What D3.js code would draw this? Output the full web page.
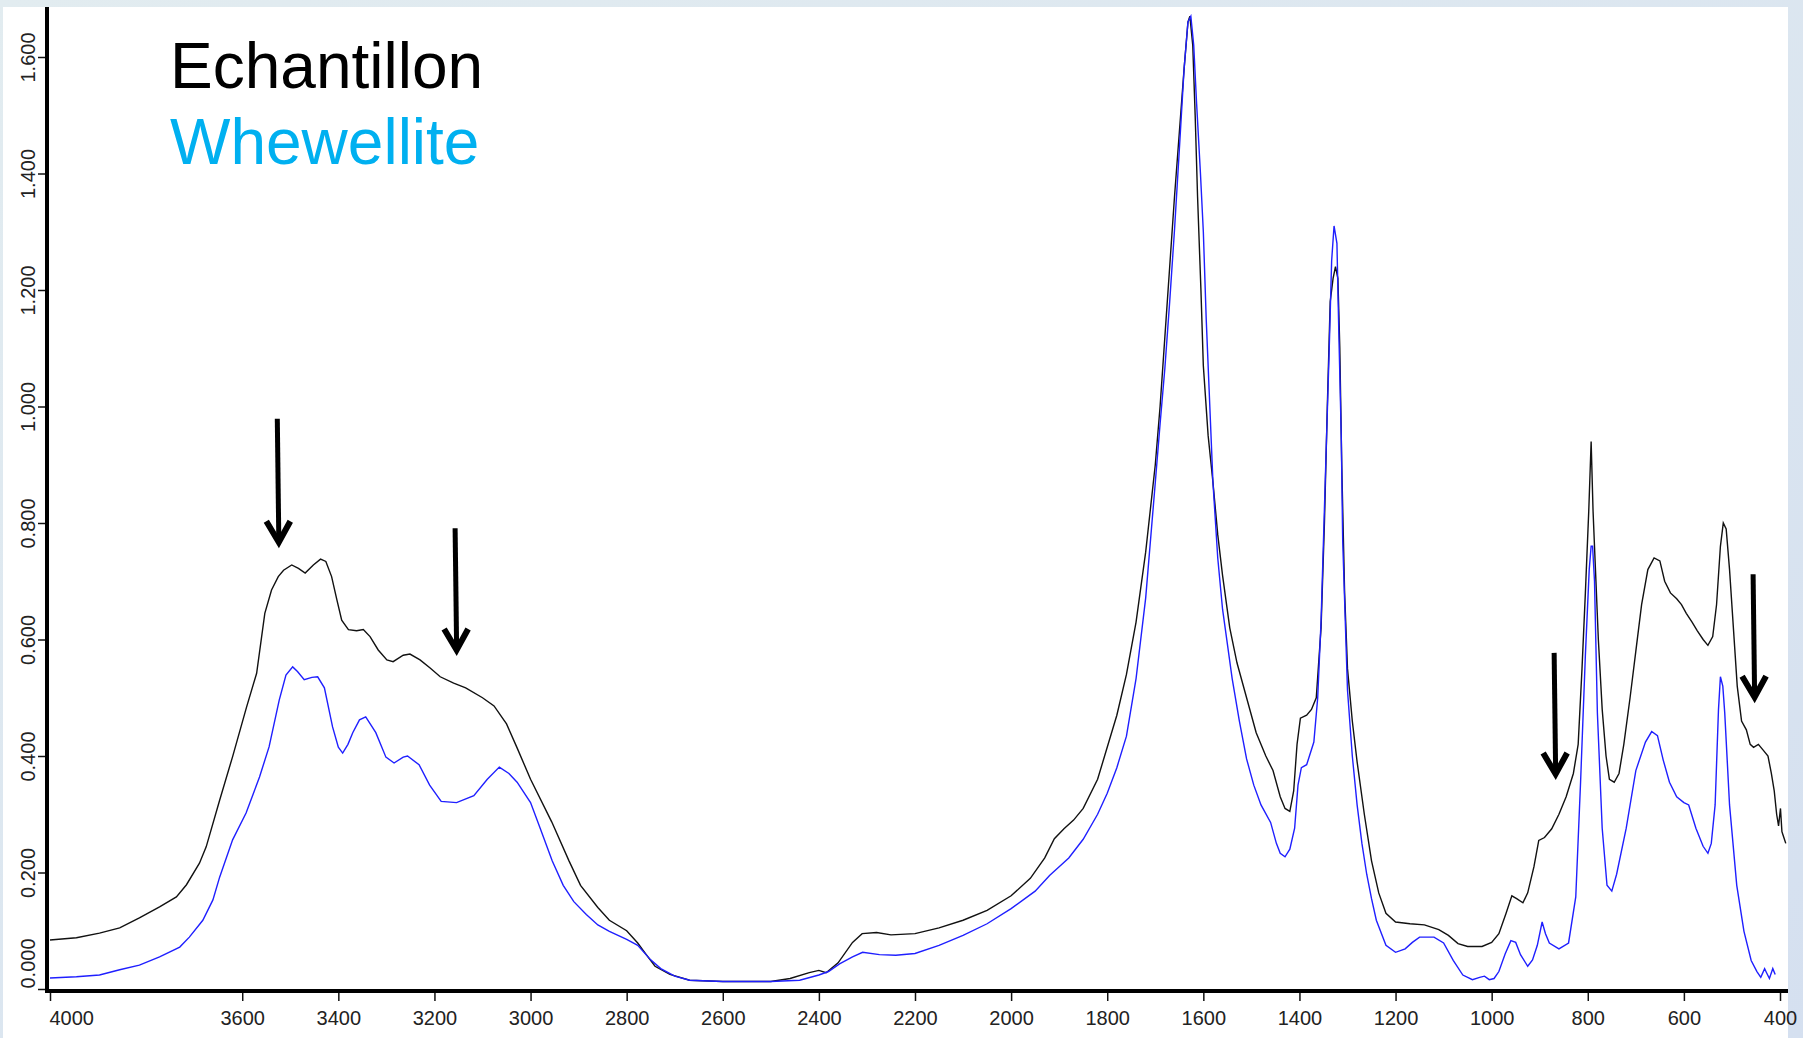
<!DOCTYPE html>
<html>
<head>
<meta charset="utf-8">
<script src="https://cdn.jsdelivr.net/npm/d3@7"></script>
<style>
  html, body { margin: 0; padding: 0; overflow: hidden; }
  body { width: 1803px; height: 1038px; }
  .tick text { font-family: 'Liberation Sans', Arial, sans-serif; font-size: 20px; fill: #222; }
  .legend { font-family: 'Liberation Sans', Arial, sans-serif; font-size: 64px; }
</style>
</head>
<body>
<div id="chart"></div>
<script>
// Echantillon (sample) spectrum
const echWavenumber = [4000, 3945, 3897, 3855, 3814, 3772, 3737, 3716, 3689, 3675, 3647, 3620, 3591, 3570, 3553, 3539, 3525, 3514, 3497, 3483, 3469, 3452, 3437, 3426, 3414, 3403, 3393, 3379, 3362, 3348, 3334, 3317, 3299, 3286, 3265, 3251, 3230, 3209, 3188, 3160, 3135, 3100, 3076, 3050, 3028, 3000, 2956, 2920, 2896, 2860, 2836, 2800, 2777, 2760, 2741, 2710, 2669, 2600, 2500, 2460, 2420, 2400, 2385, 2360, 2330, 2310, 2280, 2250, 2200, 2150, 2100, 2050, 2000, 1960, 1930, 1910, 1890, 1870, 1850, 1820, 1800, 1780, 1760, 1740, 1720, 1700, 1690, 1680, 1670, 1660, 1650, 1640, 1632, 1628, 1622, 1617, 1612, 1605, 1600, 1590, 1580, 1570, 1560, 1545, 1530, 1510, 1490, 1470, 1455, 1440, 1430, 1420, 1412, 1405, 1398, 1385, 1375, 1365, 1355, 1348, 1342, 1336, 1330, 1325, 1320, 1316, 1312, 1306, 1300, 1290, 1280, 1265, 1250, 1235, 1220, 1200, 1170, 1140, 1110, 1090, 1070, 1050, 1020, 1000, 985, 970, 958, 948, 935, 925, 912, 902, 890, 875, 860, 845, 830, 820, 812, 805, 798, 793, 789, 784, 778, 770, 762, 755, 745, 735, 725, 712, 700, 688, 675, 662, 650, 640, 628, 615, 605, 595, 583, 572, 560, 550, 540, 532, 524, 518, 512, 505, 497, 489, 480, 470, 462, 455, 445, 435, 425, 418, 412, 407, 403, 399, 396, 392, 388];
const echAbsorbance = [0.084, 0.088, 0.096, 0.105, 0.122, 0.141, 0.158, 0.179, 0.216, 0.244, 0.324, 0.399, 0.484, 0.542, 0.645, 0.685, 0.708, 0.719, 0.728, 0.722, 0.714, 0.728, 0.738, 0.734, 0.708, 0.668, 0.633, 0.617, 0.615, 0.617, 0.605, 0.582, 0.565, 0.562, 0.573, 0.575, 0.565, 0.551, 0.536, 0.525, 0.517, 0.500, 0.486, 0.455, 0.414, 0.360, 0.287, 0.220, 0.178, 0.140, 0.118, 0.100, 0.079, 0.060, 0.039, 0.025, 0.015, 0.013, 0.013, 0.018, 0.028, 0.032, 0.028, 0.045, 0.080, 0.095, 0.097, 0.093, 0.095, 0.105, 0.118, 0.135, 0.160, 0.190, 0.225, 0.258, 0.275, 0.290, 0.310, 0.360, 0.415, 0.470, 0.540, 0.630, 0.750, 0.900, 1.000, 1.120, 1.240, 1.360, 1.470, 1.580, 1.660, 1.670, 1.620, 1.500, 1.360, 1.200, 1.070, 0.950, 0.870, 0.780, 0.710, 0.620, 0.560, 0.500, 0.440, 0.400, 0.375, 0.330, 0.310, 0.305, 0.340, 0.420, 0.465, 0.470, 0.480, 0.500, 0.620, 0.800, 1.000, 1.180, 1.220, 1.240, 1.220, 1.100, 0.900, 0.680, 0.550, 0.460, 0.390, 0.300, 0.220, 0.165, 0.130, 0.115, 0.112, 0.110, 0.102, 0.092, 0.078, 0.073, 0.073, 0.080, 0.095, 0.130, 0.160, 0.155, 0.148, 0.165, 0.210, 0.255, 0.260, 0.275, 0.300, 0.330, 0.370, 0.420, 0.550, 0.680, 0.820, 0.940, 0.820, 0.720, 0.600, 0.480, 0.400, 0.360, 0.355, 0.370, 0.420, 0.500, 0.580, 0.660, 0.720, 0.740, 0.735, 0.700, 0.680, 0.670, 0.660, 0.645, 0.630, 0.615, 0.600, 0.590, 0.605, 0.660, 0.760, 0.800, 0.790, 0.720, 0.620, 0.520, 0.460, 0.445, 0.420, 0.415, 0.420, 0.410, 0.400, 0.370, 0.340, 0.300, 0.280, 0.310, 0.270, 0.260, 0.250];

// Whewellite reference spectrum
const wheWavenumber = [4000, 3945, 3897, 3855, 3814, 3772, 3730, 3710, 3682, 3661, 3647, 3620, 3592, 3564, 3544, 3523, 3509, 3495, 3485, 3471, 3455, 3443, 3429, 3412, 3400, 3391, 3380, 3370, 3356, 3343, 3322, 3301, 3284, 3265, 3256, 3232, 3210, 3186, 3154, 3118, 3090, 3065, 3045, 3028, 3000, 2980, 2955, 2932, 2910, 2884, 2860, 2836, 2800, 2777, 2750, 2729, 2700, 2669, 2600, 2500, 2440, 2400, 2380, 2357, 2330, 2309, 2274, 2240, 2200, 2150, 2100, 2050, 2000, 1950, 1920, 1900, 1880, 1850, 1820, 1800, 1780, 1760, 1740, 1720, 1700, 1690, 1680, 1670, 1660, 1650, 1640, 1632, 1626, 1620, 1614, 1606, 1600, 1594, 1588, 1580, 1570, 1560, 1540, 1525, 1510, 1495, 1480, 1460, 1448, 1440, 1430, 1420, 1410, 1403, 1396, 1385, 1370, 1362, 1355, 1345, 1338, 1333, 1328, 1322, 1318, 1313, 1310, 1300, 1290, 1280, 1270, 1260, 1250, 1240, 1220, 1200, 1180, 1165, 1150, 1120, 1100, 1080, 1060, 1040, 1025, 1015, 1005, 995, 985, 972, 960, 950, 940, 925, 915, 905, 895, 888, 880, 860, 840, 825, 815, 805, 797, 793, 790, 786, 780, 770, 760, 750, 740, 720, 700, 680, 667, 655, 643, 630, 615, 600, 590, 575, 560, 550, 543, 535, 528, 524, 519, 515, 505, 490, 475, 460, 448, 440, 432, 428, 422, 415, 410];
const wheAbsorbance = [0.019, 0.021, 0.024, 0.033, 0.041, 0.055, 0.072, 0.089, 0.118, 0.153, 0.192, 0.256, 0.302, 0.364, 0.416, 0.496, 0.539, 0.553, 0.545, 0.531, 0.535, 0.536, 0.517, 0.450, 0.415, 0.405, 0.420, 0.440, 0.462, 0.467, 0.440, 0.398, 0.388, 0.398, 0.400, 0.385, 0.350, 0.322, 0.320, 0.332, 0.360, 0.381, 0.370, 0.355, 0.320, 0.276, 0.220, 0.178, 0.150, 0.128, 0.110, 0.099, 0.085, 0.075, 0.050, 0.035, 0.022, 0.015, 0.013, 0.013, 0.015, 0.024, 0.030, 0.043, 0.055, 0.063, 0.059, 0.058, 0.061, 0.075, 0.092, 0.112, 0.138, 0.168, 0.195, 0.210, 0.225, 0.257, 0.300, 0.336, 0.380, 0.434, 0.533, 0.671, 0.869, 0.970, 1.066, 1.180, 1.303, 1.440, 1.580, 1.660, 1.670, 1.620, 1.520, 1.400, 1.300, 1.150, 1.030, 0.870, 0.740, 0.652, 0.533, 0.460, 0.395, 0.350, 0.316, 0.286, 0.250, 0.233, 0.227, 0.240, 0.276, 0.350, 0.380, 0.385, 0.424, 0.500, 0.632, 0.908, 1.100, 1.250, 1.310, 1.280, 1.125, 0.950, 0.770, 0.513, 0.400, 0.316, 0.250, 0.197, 0.155, 0.118, 0.075, 0.063, 0.069, 0.080, 0.089, 0.089, 0.079, 0.049, 0.024, 0.016, 0.020, 0.022, 0.016, 0.018, 0.030, 0.060, 0.083, 0.080, 0.059, 0.039, 0.050, 0.075, 0.115, 0.095, 0.079, 0.069, 0.079, 0.158, 0.355, 0.573, 0.720, 0.760, 0.760, 0.700, 0.474, 0.276, 0.178, 0.168, 0.197, 0.276, 0.375, 0.424, 0.442, 0.435, 0.393, 0.355, 0.330, 0.320, 0.316, 0.276, 0.245, 0.233, 0.250, 0.316, 0.480, 0.536, 0.520, 0.474, 0.316, 0.178, 0.099, 0.049, 0.030, 0.020, 0.035, 0.028, 0.018, 0.035, 0.025];

const xTickValues = [4000, 3600, 3400, 3200, 3000, 2800, 2600, 2400, 2200, 2000, 1800, 1600, 1400, 1200, 1000, 800, 600, 400];
const yTickValues = [0, 0.2, 0.4, 0.6, 0.8, 1.0, 1.2, 1.4, 1.6];

const legendLabels = ['Echantillon', 'Whewellite'];
const legendColors = ['#000000', '#00b0f0'];

// arrows: wavenumber, top of shaft, tip (absorbance units)
const arrowWavenumber = [3527, 3157, 870, 456];
const arrowTop = [0.979, 0.791, 0.577, 0.712];
const arrowTip = [0.767, 0.582, 0.369, 0.501];

class SpectrumChart {
  constructor(_config) {
    this.config = {
      parentElement: _config.parentElement,
      containerWidth: 1803,
      containerHeight: 1038,
      plotBox: { left: 3, top: 7, right: 1788 },
      axisX: 47,
      axisY: 991,
    };
    this.initVis();
  }

  initVis() {
    const vis = this;
    const c = vis.config;

    vis.svg = d3
      .select(c.parentElement)
      .append('svg')
      .attr('width', c.containerWidth)
      .attr('height', c.containerHeight);

    const grad = vis.svg
      .append('defs')
      .append('linearGradient')
      .attr('id', 'bg')
      .attr('x1', '0%').attr('y1', '0%')
      .attr('x2', '100%').attr('y2', '100%');
    grad.append('stop').attr('offset', '0%').attr('stop-color', '#e2ecf0');
    grad.append('stop').attr('offset', '100%').attr('stop-color', '#d5e0f0');

    vis.svg.append('rect')
      .attr('width', c.containerWidth)
      .attr('height', c.containerHeight)
      .attr('fill', 'url(#bg)');

    vis.svg.append('rect')
      .attr('x', c.plotBox.left)
      .attr('y', c.plotBox.top)
      .attr('width', c.plotBox.right - c.plotBox.left)
      .attr('height', c.containerHeight - c.plotBox.top)
      .attr('fill', '#ffffff');

    vis.xScale = d3.scaleLinear().domain([4000, 400]).range([50, 1780]);
    vis.yScale = d3.scaleLinear().domain([0, 1.6]).range([989, 57]);

    vis.renderVis();
  }

  renderVis() {
    const vis = this;
    const c = vis.config;

    // axes
    const xAxis = d3.axisBottom(vis.xScale)
      .tickValues(xTickValues)
      .tickSize(10)
      .tickSizeOuter(0)
      .tickFormat(d3.format('d'));

    const xg = vis.svg.append('g')
      .attr('transform', `translate(0,${c.axisY})`)
      .call(xAxis);
    xg.select('.domain').remove();
    xg.selectAll('.tick line').attr('stroke', '#111').attr('stroke-width', 1.5);
    xg.selectAll('.tick text')
      .attr('y', 34)
      .attr('dy', 0)
      .attr('text-anchor', (d) => (d === 4000 ? 'start' : 'middle'))
      .attr('x', (d) => (d === 4000 ? -1 : 0));

    const yAxis = d3.axisLeft(vis.yScale)
      .tickValues(yTickValues)
      .tickSize(9)
      .tickSizeOuter(0)
      .tickFormat(d3.format('.3f'));

    const yg = vis.svg.append('g')
      .attr('transform', `translate(${c.axisX},0)`)
      .call(yAxis);
    yg.select('.domain').remove();
    yg.selectAll('.tick line').attr('stroke', '#111').attr('stroke-width', 1.5);
    yg.selectAll('.tick text')
      .attr('transform', 'rotate(-90)')
      .attr('x', (d) => (d === 0 ? 1 : 0))
      .attr('y', -12)
      .attr('dy', 0)
      .attr('text-anchor', (d) => (d === 0 ? 'start' : 'middle'));

    vis.svg.append('line')
      .attr('x1', c.axisX).attr('x2', c.axisX)
      .attr('y1', c.plotBox.top).attr('y2', c.axisY + 2)
      .attr('stroke', '#000').attr('stroke-width', 4);
    vis.svg.append('line')
      .attr('x1', c.axisX - 2).attr('x2', c.plotBox.right)
      .attr('y1', c.axisY).attr('y2', c.axisY)
      .attr('stroke', '#000').attr('stroke-width', 4);

    // spectra
    const line = d3.line()
      .x((d) => vis.xScale(d[0]))
      .y((d) => vis.yScale(d[1]));

    const ech = echWavenumber.map((w, i) => [w, echAbsorbance[i]]);
    const whe = wheWavenumber.map((w, i) => [w, wheAbsorbance[i]]);

    vis.svg.append('path')
      .datum(ech)
      .attr('fill', 'none')
      .attr('stroke', '#111')
      .attr('stroke-width', 1.4)
      .attr('d', line);

    vis.svg.append('path')
      .datum(whe)
      .attr('fill', 'none')
      .attr('stroke', '#1f1fff')
      .attr('stroke-width', 1.4)
      .attr('d', line);

    // arrows
    const arrows = vis.svg.append('g');
    arrowWavenumber.forEach((w, i) => {
      const ax = vis.xScale(w);
      const y0 = vis.yScale(arrowTop[i]);
      const y1 = vis.yScale(arrowTip[i]);
      arrows.append('line')
        .attr('x1', ax).attr('x2', ax + 1.5)
        .attr('y1', y0).attr('y2', y1 - 3)
        .attr('stroke', '#000').attr('stroke-width', 5);
      arrows.append('path')
        .attr('d', `M${ax - 11},${y1 - 21}L${ax + 1.5},${y1}L${ax + 13},${y1 - 21}`)
        .attr('fill', 'none')
        .attr('stroke', '#000')
        .attr('stroke-width', 6)
        .attr('stroke-linejoin', 'miter');
    });

    // legend
    vis.svg.selectAll('.legend')
      .data(legendLabels)
      .join('text')
      .attr('class', 'legend')
      .attr('x', 170)
      .attr('y', (d, i) => 88 + i * 76)
      .attr('fill', (d, i) => legendColors[i])
      .text((d) => d);
  }
}

new SpectrumChart({ parentElement: '#chart' });
</script>
</body>
</html>
